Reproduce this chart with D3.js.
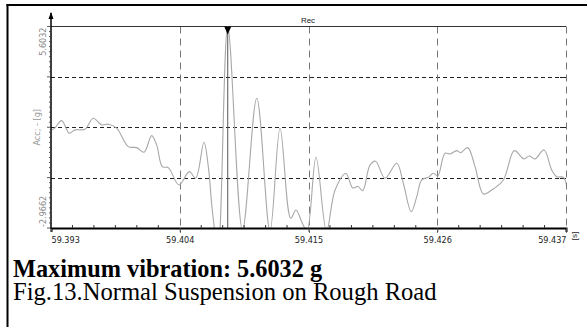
<!DOCTYPE html>
<html>
<head>
<meta charset="utf-8">
<script src="https://cdn.jsdelivr.net/npm/d3@7"></script>
<style>
  body { margin: 0; background: #fff; }
  svg { display: block; }
  .ax text { font-family: "Liberation Sans Narrow", "DejaVu Sans Condensed", sans-serif; font-size: 9px; fill: #222; }
  .cap { font-family: "Liberation Serif", "Times New Roman", serif; fill: #000; }
</style>
</head>
<body>
<svg id="chart" width="587" height="327"></svg>
<script>
// signal samples
var times = [59.39306, 59.39334, 59.39391, 59.39456, 59.39505, 59.39590, 59.39661, 59.39733, 59.39790, 59.39861,
             59.39960, 59.40032, 59.40095, 59.40160, 59.40203, 59.40251, 59.40302, 59.40394, 59.40482, 59.40536,
             59.40607, 59.40644, 59.40678, 59.40727, 59.40810, 59.40936, 59.41058, 59.41171, 59.41257, 59.41348,
             59.41393, 59.41442, 59.41487, 59.41564, 59.41654, 59.41727, 59.41820, 59.41878, 59.41923, 59.41963,
             59.42026, 59.42073, 59.42154, 59.42254, 59.42310, 59.42378, 59.42425, 59.42467, 59.42524, 59.42566,
             59.42604, 59.42666, 59.42709, 59.42766, 59.42800, 59.42860, 59.42923, 59.42994, 59.43065, 59.43165,
             59.43258, 59.43341, 59.43387, 59.43435, 59.43512, 59.43578, 59.43621, 59.43677, 59.43704];
var accel = [1.206, 1.291, 1.602, 1.065, 1.206, 1.236, 1.704, 1.419, 1.448, 1.278,
             0.495, 0.452, 0.256, 0.963, 0.567, -0.357, -0.399, -1.136, -0.570, -0.851,
             0.682, -0.357, -2.200, -3.9, 5.6032, -3.05, 2.555, -3.1, 1.278, -2.553,
             -2.200, -2.698, -3.1, 0.043, -3.1, -1.349, -0.646, -1.263, -1.199, -1.378,
             -0.284, -0.127, -0.851, -0.212, -1.063, -2.272, -1.634, -0.923, -0.808, -0.638,
             -0.753, 0.214, 0.184, 0.324, 0.239, 0.452, -0.357, -1.519, -1.349, -0.923,
             0.324, -0.029, 0.099, -0.029, 0.354, -0.497, -0.783, -0.808, -1.136];
var xTicks = [59.393, 59.404, 59.415, 59.426, 59.437];
var yMin = -2.9662, yMax = 5.6032;
var yLabels = ["5.6032", "-2.9662"];
var cursorTime = 59.4081;

var svg = d3.select("#chart");
var pLeft = 51, pRight = 566, pTop = 26.5, pBottom = 228;

var x = d3.scaleLinear().domain([xTicks[0], xTicks[xTicks.length - 1]]).range([pLeft, pRight]);
var y = d3.scaleLinear().domain([yMin, yMax]).range([pBottom, pTop]);
var yGrid = d3.range(5).map(function(i) { return yMin + i * (yMax - yMin) / 4; });

// outer frame
svg.append("line").attr("x1", 7.5).attr("x2", 7.5).attr("y1", 4).attr("y2", 327)
  .attr("stroke", "#000").attr("stroke-width", 2);
svg.append("line").attr("x1", 6.5).attr("x2", 587).attr("y1", 5).attr("y2", 5)
  .attr("stroke", "#000").attr("stroke-width", 2);

// grid
svg.append("g").selectAll("line").data(yGrid.slice(1, 4)).enter().append("line")
  .attr("x1", pLeft).attr("x2", pRight)
  .attr("y1", function(d) { return Math.round(y(d)) + 0.5; })
  .attr("y2", function(d) { return Math.round(y(d)) + 0.5; })
  .attr("stroke", "#222").attr("stroke-dasharray", "4,3");
svg.append("g").selectAll("line").data(yGrid.slice(1, 4)).enter().append("line")
  .attr("x1", pRight - 6).attr("x2", pRight)
  .attr("y1", function(d) { return Math.round(y(d)) + 0.5; })
  .attr("y2", function(d) { return Math.round(y(d)) + 0.5; })
  .attr("stroke", "#222");
svg.append("g").selectAll("line").data(xTicks.slice(1)).enter().append("line")
  .attr("x1", function(d) { return Math.round(x(d)) + 0.5; })
  .attr("x2", function(d) { return Math.round(x(d)) + 0.5; })
  .attr("y1", pTop).attr("y2", pBottom + 5)
  .attr("stroke", "#777").attr("stroke-dasharray", "7,5");

// top border of plot
svg.append("line").attr("x1", pLeft).attr("x2", pRight).attr("y1", pTop).attr("y2", pTop)
  .attr("stroke", "#333").attr("stroke-width", 1);

// signal
svg.append("clipPath").attr("id", "clip").append("rect")
  .attr("x", pLeft).attr("y", pTop).attr("width", pRight - pLeft).attr("height", pBottom - pTop);
var line = d3.line()
  .x(function(d, i) { return x(times[i]); })
  .y(function(d) { return y(d); })
  .curve(d3.curveCatmullRom.alpha(0.5));
svg.append("path").datum(accel).attr("clip-path", "url(#clip)")
  .attr("d", line).attr("fill", "none").attr("stroke", "#a8a8a8").attr("stroke-width", 1.1);

// cursor
svg.append("line").attr("x1", x(cursorTime)).attr("x2", x(cursorTime)).attr("y1", pTop).attr("y2", pBottom)
  .attr("stroke", "#555").attr("stroke-width", 1);
svg.append("path")
  .attr("d", "M" + (x(cursorTime) - 3.5) + "," + pTop + "L" + (x(cursorTime) + 3.5) + "," + pTop + "L" + x(cursorTime) + "," + (pTop + 8) + "Z")
  .attr("fill", "#000");

// x axis
var xAxis = d3.axisBottom(x).tickValues(xTicks).tickSize(4).tickFormat(d3.format(".3f"));
var gx = svg.append("g").attr("class", "ax").attr("transform", "translate(0," + pBottom + ")").call(xAxis);
gx.select(".domain").attr("stroke", "#000").attr("stroke-width", 2);
gx.selectAll(".tick line").attr("stroke", "#444");
gx.selectAll(".tick text").attr("dy", "0.9em")
  .attr("text-anchor", function(d, i) { return i == 0 ? "start" : (i == xTicks.length - 1 ? "end" : "middle"); });
var minor = [];
for (var i = 0; i < xTicks.length - 1; i++) {
  for (var k = 1; k < 6; k++) minor.push(xTicks[i] + k * (xTicks[i + 1] - xTicks[i]) / 6);
}
svg.append("g").selectAll("line").data(minor).enter().append("line")
  .attr("x1", function(d) { return x(d); }).attr("x2", function(d) { return x(d); })
  .attr("y1", pBottom - 3).attr("y2", pBottom)
  .attr("stroke", "#333");
svg.append("text")
  .attr("transform", "translate(575,236) rotate(-90)")
  .attr("text-anchor", "middle").attr("dominant-baseline", "middle")
  .style("font-family", "'Liberation Sans Narrow', sans-serif").style("font-size", "8px").style("fill", "#222")
  .text("[s]");

// y axis
svg.append("line").attr("x1", pLeft).attr("x2", pLeft).attr("y1", 13).attr("y2", pBottom + 1)
  .attr("stroke", "#000").attr("stroke-width", 1.5);
svg.append("path").attr("d", "M" + (pLeft - 2.5) + ",19L" + pLeft + ",12L" + (pLeft + 2.5) + ",19Z").attr("fill", "#000");
var yMinor = d3.range(41).map(function(i) { return yMin + i * (yMax - yMin) / 40; });
svg.append("g").selectAll("line").data(yMinor).enter().append("line")
  .attr("x1", function(d, i) { return i % 10 == 0 ? pLeft - 4 : pLeft - 2; }).attr("x2", pLeft)
  .attr("y1", function(d) { return y(d); }).attr("y2", function(d) { return y(d); })
  .attr("stroke", "#333").attr("stroke-width", 0.8);

var ylab = svg.append("g").attr("class", "ax");
ylab.append("text").attr("transform", "translate(43," + (pTop + 1) + ") rotate(-90)")
  .attr("text-anchor", "end").attr("dominant-baseline", "middle").style("fill", "#888").text(yLabels[0]);
ylab.append("text").attr("transform", "translate(43," + (pBottom - 1) + ") rotate(-90)")
  .attr("text-anchor", "start").attr("dominant-baseline", "middle").style("fill", "#888").text(yLabels[1]);
ylab.append("text").attr("transform", "translate(37," + ((pTop + pBottom) / 2) + ") rotate(-90)")
  .attr("text-anchor", "middle").attr("dominant-baseline", "middle").style("fill", "#999").text("Acc; - [g]");

// title
svg.append("text").attr("x", 308).attr("y", 23)
  .attr("text-anchor", "middle")
  .style("font-family", "'Liberation Sans Narrow', sans-serif").style("font-size", "8px").style("fill", "#222")
  .text("Rec");

// captions
svg.append("text").attr("class", "cap").attr("x", 13).attr("y", 277)
  .style("font-size", "24.3px").style("font-weight", "bold")
  .text("Maximum vibration: 5.6032 g");
svg.append("text").attr("class", "cap").attr("x", 13).attr("y", 300)
  .style("font-size", "24.6px")
  .text("Fig.13.Normal Suspension on Rough Road");
</script>
</body>
</html>
